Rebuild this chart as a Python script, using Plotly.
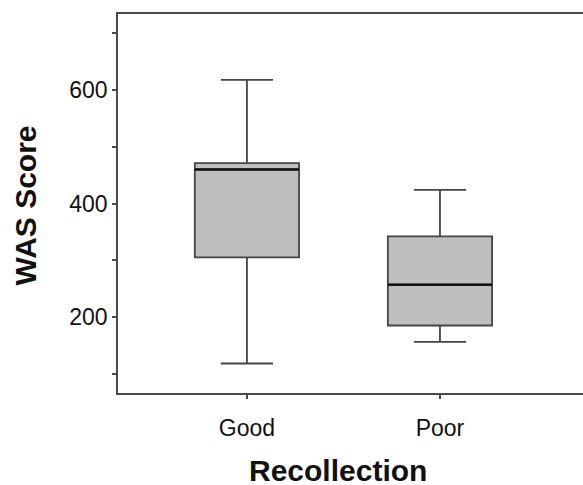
import plotly.graph_objects as go

categories = ["Good", "Poor"]
lower_whisker = [118, 156]
q1 = [305, 185]
median = [460, 257]
q3 = [471, 342]
upper_whisker = [618, 424]

y_tickvals = [100, 200, 300, 400, 500, 600, 700]
y_ticktext = ["", "200", "", "400", "", "600", ""]

AX = "#4a4a4a"
FONT = "Arial, Liberation Sans, sans-serif"

fig = go.Figure()
fig.add_trace(go.Box(
    x=categories, q1=q1, median=median, q3=q3,
    lowerfence=lower_whisker, upperfence=upper_whisker,
    width=0.54, whiskerwidth=0.5,
    fillcolor="#bebebe", line=dict(color="#454545", width=1.8),
    boxpoints=False, showlegend=False, hoverinfo="skip",
))
# thicker black median line
fig.add_trace(go.Box(
    x=categories, q1=median, median=median, q3=median,
    lowerfence=median, upperfence=median,
    width=0.54, whiskerwidth=0,
    fillcolor="rgba(0,0,0,0)", line=dict(color="#111111", width=2.5),
    boxpoints=False, showlegend=False, hoverinfo="skip",
))

fig.update_layout(
    width=583, height=485,
    margin=dict(l=118, r=0, t=14, b=92, autoexpand=False),
    paper_bgcolor="white", plot_bgcolor="white",
    boxmode="overlay",
    font=dict(family=FONT, color="#111111"),
    xaxis=dict(
        range=[-0.668, 1.741], showgrid=False, zeroline=False, automargin=False,
        showline=True, linecolor=AX, linewidth=1.8, mirror=True,
        ticks="outside", ticklen=4, tickcolor=AX, tickwidth=1.5,
        ticklabelstandoff=9,
        tickfont=dict(size=23, family=FONT, color="#111111"),
    ),
    yaxis=dict(
        range=[66, 734], showgrid=False, zeroline=False, automargin=False,
        showline=True, linecolor=AX, linewidth=1.8,
        ticks="outside", ticklen=4, tickcolor=AX, tickwidth=1.5,
        tickvals=y_tickvals, ticktext=y_ticktext,
        tickfont=dict(size=23, family=FONT, color="#111111"),
    ),
    annotations=[
        dict(text="<b>Recollection</b>", xref="paper", yref="paper",
             x=(338 - 118) / 465, y=(393 - 470) / 379, xanchor="center", yanchor="middle",
             height=26, valign="middle",
             showarrow=False, font=dict(size=30, family=FONT, color="#111111")),
        dict(text="<b>WAS Score</b>", xref="paper", yref="paper", textangle=-90,
             x=(24.5 - 118) / 465, y=(393 - 206) / 379, xanchor="center", yanchor="middle",
             showarrow=False, font=dict(size=30, family=FONT, color="#111111")),
    ],
)

fig.write_html(
    "out.html",
    config={"displayModeBar": False},
    post_script="document.body.style.margin='0';document.body.style.overflow='hidden';",
)
